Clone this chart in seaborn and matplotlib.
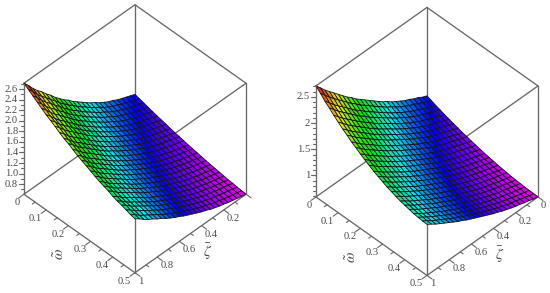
import numpy as np
import matplotlib
matplotlib.use("Agg")
import matplotlib.pyplot as plt
from mpl_toolkits.mplot3d import proj3d
import seaborn as sns

sns.set_theme(style="white")
plt.rcParams["font.family"] = ["Liberation Serif", "DejaVu Serif"]
plt.rcParams["mathtext.fontset"] = "stix"

# height read along the front-left edge (zeta = 1) and front-right edge (omega = 0.5)
left_omega_edge = [2.71, 2.65, 2.59, 2.53, 2.47, 2.41, 2.36, 2.31, 2.25, 2.20, 2.16, 2.11, 2.06,
                   2.02, 1.98, 1.94, 1.90, 1.86, 1.83, 1.80, 1.76, 1.73, 1.71, 1.68, 1.65, 1.63]
left_zeta_edge = [0.61, 0.63, 0.65, 0.67, 0.69, 0.72, 0.74, 0.77, 0.80, 0.84, 0.87, 0.91, 0.95,
                  0.99, 1.03, 1.08, 1.12, 1.17, 1.22, 1.28, 1.33, 1.39, 1.44, 1.50, 1.57, 1.63]
right_omega_edge = [2.71, 2.63, 2.54, 2.47, 2.39, 2.32, 2.25, 2.19, 2.12, 2.07, 2.01, 1.96, 1.91,
                    1.86, 1.82, 1.78, 1.74, 1.71, 1.68, 1.65, 1.63, 1.61, 1.59, 1.58, 1.57, 1.565]
right_zeta_edge = [0.59, 0.61, 0.64, 0.66, 0.69, 0.71, 0.74, 0.77, 0.80, 0.84, 0.87, 0.91, 0.95,
                   0.99, 1.03, 1.07, 1.11, 1.16, 1.20, 1.25, 1.30, 1.35, 1.40, 1.45, 1.51, 1.565]

omega_ticks = [0, 0.1, 0.2, 0.3, 0.4, 0.5]
omega_labels = ["0", "0.1", "0.2", "0.3", "0.4", "0.5"]
zeta_ticks = [0, 0.2, 0.4, 0.6, 0.8, 1]
left_zeta_labels = ["", "0.2", "0.4", "0.6", "0.8", "1"]
right_zeta_labels = ["0", "0.2", "0.4", "0.6", "0.8", "1"]
left_z_ticks = [0.8, 1.0, 1.2, 1.4, 1.6, 1.8, 2.0, 2.2, 2.4, 2.6]
left_z_labels = ["0.8", "1.0", "1.2", "1.4", "1.6", "1.8", "2.0", "2.2", "2.4", "2.6"]
right_z_ticks = [1, 1.5, 2, 2.5]
right_z_labels = ["1", "1.5", "2", "2.5"]

LINE = "#686868"
TEXT = "#4a4a4a"


def put_text(ax, x, y, z, s, dx, dy, **kw):
    # project the 3d anchor, then shift it by a few pixels on screen
    xp, yp, _ = proj3d.proj_transform(x, y, z, ax.get_proj())
    if s:
        ax.annotate(s, xy=(xp, yp), xycoords="data", xytext=(dx, dy), textcoords="offset pixels",
                    annotation_clip=False, color=TEXT, va="center", zorder=5, **kw)


def draw_panel(ax, omega_edge, zeta_edge, z_ticks, z_labels, zeta_labels, z_lo, z_hi):
    # x is zeta and y is omega, so that omega grows to the right from this view
    omega = np.linspace(0, 0.5, len(omega_edge))
    zeta = np.linspace(0, 1, len(zeta_edge))
    Y, X = np.meshgrid(omega, zeta)
    Z = np.outer(zeta_edge, omega_edge) / zeta_edge[-1]

    ax.set_proj_type("ortho")
    ax.view_init(elev=45, azim=45)
    ax.set_box_aspect((1, 1, 1))
    ax.set_xlim(0, 1)
    ax.set_ylim(0, 0.5)
    ax.set_zlim(z_lo, z_hi)
    ax.set_axis_off()
    ax.patch.set_alpha(0)

    box = dict(color=LINE, lw=0.95, zorder=1, clip_on=False)
    for x0, y0, x1, y1 in [(0, 0, 1, 0), (0, 0, 0, 0.5), (1, 0, 1, 0.5), (0, 0.5, 1, 0.5)]:
        ax.plot([x0, x1], [y0, y1], [z_lo, z_lo], **box)
        ax.plot([x0, x1], [y0, y1], [z_hi, z_hi], **box)
    for x0, y0 in [(0, 0), (1, 0), (0, 0.5), (1, 0.5)]:
        ax.plot([x0, x0], [y0, y0], [z_lo, z_hi], **box)

    # height is what sets the hue: red on top, magenta at the bottom
    zhue = sns.hls_palette(256, h=0, l=0.46, s=1, as_cmap=True)
    faces = zhue((z_hi - Z) / (z_hi - z_lo) * 5 / 6)
    ax.plot_surface(X, Y, Z, facecolors=faces, rstride=1, cstride=1, shade=False,
                    edgecolor="#14141c", linewidth=0.6, antialiased=True, zorder=2)

    # the box edges show faintly through the surface
    faint = dict(color="#202020", lw=0.9, alpha=0.22, zorder=3)
    ax.plot([0.64, 1], [0.5, 0.5], [z_hi, z_hi], **faint)
    ax.plot([1, 1], [0, 0.5], [z_hi, z_hi], **faint)
    ax.plot([1, 1], [0.5, 0.5], [Z[-1, -1], z_hi], **faint)

    tick = dict(color=LINE, lw=0.8, zorder=4, clip_on=False)
    tick_font = dict(fontsize=7.6)

    for v, label in zip(omega_ticks, omega_labels):
        ax.plot([1, 1.045], [v, v], [z_lo, z_lo], **tick)
        put_text(ax, 1, v, z_lo, label, -4, -8.5, ha="right", **tick_font)
    for v in np.array(omega_ticks[:-1]) + 0.05:
        ax.plot([1, 1.025], [v, v], [z_lo, z_lo], **tick)

    for v, label in zip(zeta_ticks, zeta_labels):
        ax.plot([v, v], [0.5, 0.5225], [z_lo, z_lo], **tick)
        put_text(ax, v, 0.5, z_lo, label, 3, -8.5, ha="left", **tick_font)
    for v in np.array(zeta_ticks[:-1]) + 0.1:
        ax.plot([v, v], [0.5, 0.5125], [z_lo, z_lo], **tick)

    for v, label in zip(z_ticks, z_labels):
        ax.plot([1, 1.022], [0, -0.011], [v, v], **tick)
        put_text(ax, 1, 0, v, label, -6, 0, ha="right", **tick_font)
    for v in np.arange(np.ceil(z_lo * 10) / 10, z_hi, 0.1):
        ax.plot([1, 1.012], [0, -0.006], [v, v], **tick)

    put_text(ax, 1, 0.25, z_lo, r"$\tilde{\omega}$", -20, -21, ha="center", fontsize=11, rotation=90)
    put_text(ax, 0.5, 0.5, z_lo, r"$\bar{\zeta}$", 17, -18, ha="center", fontsize=11)


fig = plt.figure(figsize=(5.5, 2.93), dpi=100)
W, H = 550, 293
size = 264
ax_left = fig.add_axes([-0.6 / W, (293 - 274.3) / H, size / W, size / H], projection="3d",
                       computed_zorder=False)
ax_right = fig.add_axes([291.4 / W, (293 - 277) / H, size / W, size / H], projection="3d",
                        computed_zorder=False)
draw_panel(ax_left, left_omega_edge, left_zeta_edge, left_z_ticks, left_z_labels,
           left_zeta_labels, 0.61, 2.71)
draw_panel(ax_right, right_omega_edge, right_zeta_edge, right_z_ticks, right_z_labels,
           right_zeta_labels, 0.59, 2.71)
fig.savefig("out.png", dpi=100)
